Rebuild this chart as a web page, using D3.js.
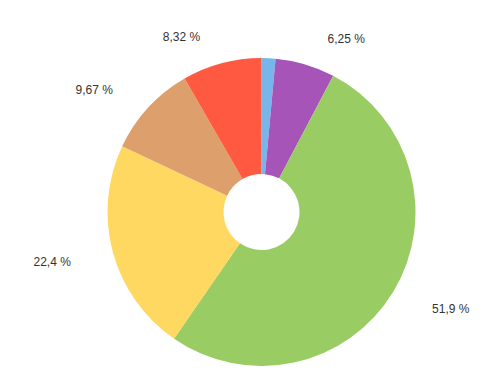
<!DOCTYPE html>
<html>
<head>
  <meta charset="UTF-8">
  <title>Donut Chart</title>
  <script src="https://d3js.org/d3.v7.min.js"></script>
  <style>
    body {
      margin: 0;
      background: #fff;
    }
    .label {
      font-family: "Liberation Sans", Arial, sans-serif;
      font-size: 12px;
      fill: #333;
    }
  </style>
</head>
<body>
  <div id="chart"></div>
  <script>
    const names = ["blue", "purple", "green", "yellow", "tan", "red"];
    const values = [1.46, 6.25, 51.9, 22.4, 9.67, 8.32];
    const labels = ["", "6,25 %", "51,9 %", "22,4 %", "9,67 %", "8,32 %"];
    const colors = ["#78b5ea", "#a754b9", "#99cc63", "#ffd862", "#dd9f6b", "#ff5a41"];

    const width = 492, height = 377;
    const cx = 261.5, cy = 212;
    const outerR = 154, innerR = 38;
    const labelR = 183, labelGap = 14;

    const data = names.map((n, i) => ({ name: n, value: values[i], label: labels[i], color: colors[i] }));

    const svg = d3.select("#chart")
      .append("svg")
      .attr("width", width)
      .attr("height", height)
      .append("g")
      .attr("transform", `translate(${cx}, ${cy})`);

    const pie = d3.pie()
      .sort(null)
      .value(d => d.value);

    const arc = d3.arc()
      .innerRadius(innerR)
      .outerRadius(outerR);

    const arcs = pie(data);

    svg.selectAll(".slice")
      .data(arcs)
      .enter()
      .append("path")
      .attr("class", "slice")
      .attr("d", arc)
      .attr("fill", d => d.data.color);

    const mid = d => (d.startAngle + d.endAngle) / 2;

    // labels sit just outside the ring, pushed sideways from the mid angle
    svg.selectAll(".label")
      .data(arcs.filter(d => d.data.label))
      .enter()
      .append("text")
      .attr("class", "label")
      .attr("x", d => {
        const x = labelR * Math.sin(mid(d));
        return x + (x >= 0 ? labelGap : -labelGap);
      })
      .attr("y", d => -labelR * Math.cos(mid(d)))
      .attr("dy", "0.5em")
      .attr("text-anchor", d => Math.sin(mid(d)) >= 0 ? "start" : "end")
      .text(d => d.data.label);
  </script>
</body>
</html>
